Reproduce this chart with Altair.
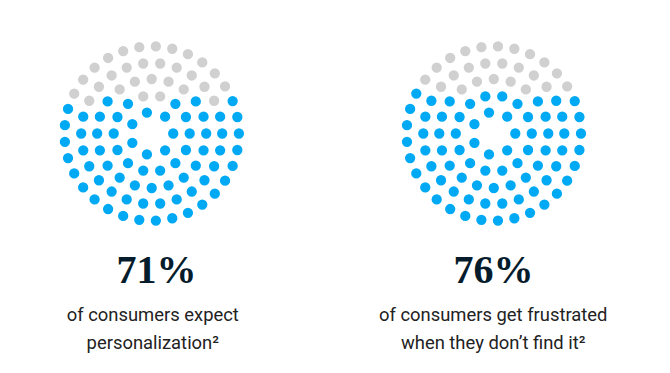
import math
import altair as alt
import pandas as pd

# ---------------- data ----------------
percentages = [71, 76]
headline_labels = ["71%", "76%"]
caption_line1 = ["of consumers expect", "of consumers get frustrated"]
caption_line2 = ["personalization²", "when they don’t find it²"]
ring_dot_counts = [7, 14, 20, 26, 33]          # 100 dots per circle

# ---------------- layout ----------------
W, H = 654, 357
panel_cx = [143.7, 485.8]
panel_cy = 125.5
ring_radii = [21.5, 38.0, 54.5, 70.5, 87.2]
head_cx = [148.5, 485.6]
text_cx = [144.8, 485.2]
headline_y = 275
line1_y = 313
line2_y = 341

BLUE = "#00A9F4"
GREY = "#D0D0D0"

rows = []
for p, pct in enumerate(percentages):
    pts = []
    for n, r in zip(ring_dot_counts, ring_radii):
        for k in range(n):
            th = 2 * math.pi * k / n
            pts.append((r * math.cos(th), r * math.sin(th)))
    # top dots (highest first, left first on ties) are the "empty" share
    order = sorted(range(len(pts)), key=lambda i: (-round(pts[i][1], 3), pts[i][0]))
    n_empty = sum(ring_dot_counts) - pct
    empty = set(order[:n_empty])
    for i, (dx, dy) in enumerate(pts):
        rows.append({
            "panel": p,
            "x": panel_cx[p] + dx,
            "y": panel_cy - dy,
            "state": "empty" if i in empty else "filled",
        })
dots_df = pd.DataFrame(rows)

head_df = pd.DataFrame({"x": head_cx, "y": [headline_y] * 2, "label": headline_labels})
cap_df = pd.DataFrame({
    "x": text_cx + text_cx,
    "y": [line1_y] * 2 + [line2_y] * 2,
    "label": caption_line1 + caption_line2,
})

xs = alt.Scale(domain=[0, W], nice=False, zero=False)
ys = alt.Scale(domain=[0, H], nice=False, zero=False, reverse=True)

dots = alt.Chart(dots_df).mark_circle(size=106, opacity=1).encode(
    x=alt.X("x:Q", scale=xs, axis=None),
    y=alt.Y("y:Q", scale=ys, axis=None),
    color=alt.Color("state:N", scale=alt.Scale(domain=["filled", "empty"], range=[BLUE, GREY]), legend=None),
)

heads = alt.Chart(head_df).mark_text(
    font="Liberation Serif", fontWeight="bold", fontSize=40, color="#051C2C",
    align="center", baseline="alphabetic",
).encode(
    x=alt.X("x:Q", scale=xs, axis=None),
    y=alt.Y("y:Q", scale=ys, axis=None),
    text="label:N",
)

caps = alt.Chart(cap_df).mark_text(
    font="Roboto", fontSize=18.4, color="#222222",
    align="center", baseline="alphabetic",
).encode(
    x=alt.X("x:Q", scale=xs, axis=None),
    y=alt.Y("y:Q", scale=ys, axis=None),
    text="label:N",
)

chart = alt.layer(dots, heads, caps).properties(
    width=W, height=H,
    autosize=alt.AutoSizeParams(type="none"),
    padding=0,
    background="white",
).configure_view(stroke=None)

chart.save("out.html", embed_options={"renderer": "svg", "actions": False})
